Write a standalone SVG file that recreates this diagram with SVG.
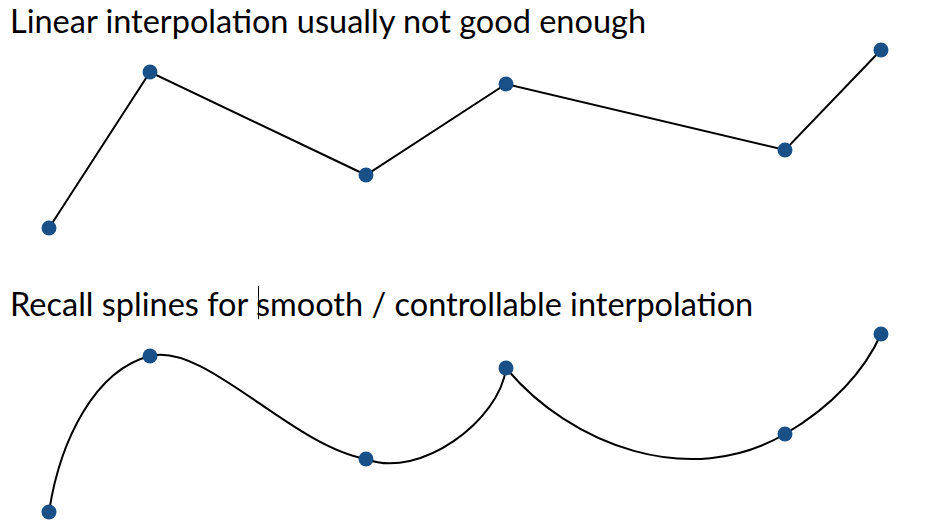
<svg xmlns="http://www.w3.org/2000/svg" width="927" height="529" viewBox="0 0 927 529">
<style>
.t{font-family:Lato,"Noto Sans","Liberation Sans",sans-serif;font-size:32.5px;fill:#000}
.ln{fill:none;stroke:#000;stroke-width:2}
.pt{fill:#1a5088}
</style>
<rect width="927" height="529" fill="#fff"/>
<text class="t" x="10" y="33">Linear interpolation usually not good enough</text>
<text class="t" x="10" y="316">Recall splines for smooth / controllable interpolation</text>
<line x1="258.5" y1="286" x2="258.5" y2="319" stroke="#000" stroke-width="1"/>
<g id="connectors">
<polyline class="ln" points="49,228 150,72 366,175 506,84 785,150 881,50"/>
<path class="ln" d="M49,512 C60,440 95,370 150,356 C205,342 290,445 366,459 C420,480 500,420 506,368 C570,445 690,490 785,434 C833,406 865,370 881,334"/>
</g>
<g id="linear-points">
<circle class="pt" cx="49" cy="228" r="7.5"/>
<circle class="pt" cx="150" cy="72" r="7.5"/>
<circle class="pt" cx="366" cy="175" r="7.5"/>
<circle class="pt" cx="506" cy="84" r="7.5"/>
<circle class="pt" cx="785" cy="150" r="7.5"/>
<circle class="pt" cx="881" cy="50" r="7.5"/>
</g>
<g id="spline-points">
<circle class="pt" cx="49" cy="512" r="7.5"/>
<circle class="pt" cx="150" cy="356" r="7.5"/>
<circle class="pt" cx="366" cy="459" r="7.5"/>
<circle class="pt" cx="506" cy="368" r="7.5"/>
<circle class="pt" cx="785" cy="434" r="7.5"/>
<circle class="pt" cx="881" cy="334" r="7.5"/>
</g>
</svg>
